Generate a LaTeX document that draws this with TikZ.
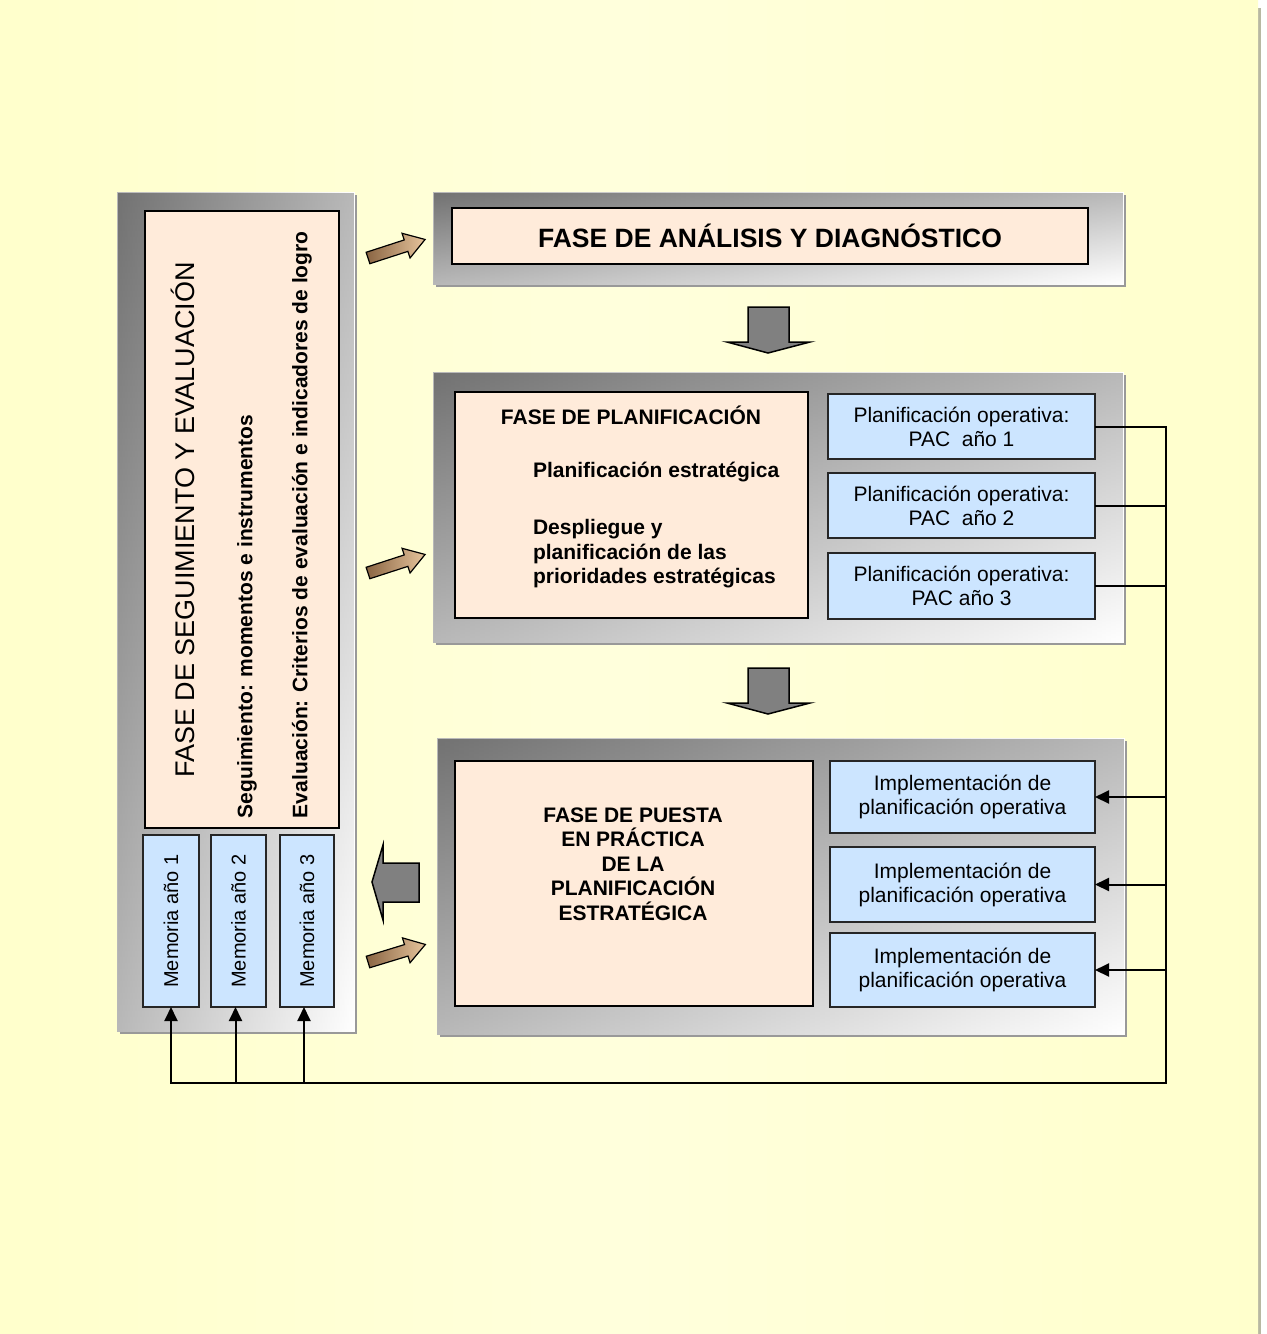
\documentclass[tikz,border=0pt]{standalone}
\usepackage{fontspec}
\setmainfont{Liberation Sans}
\usetikzlibrary{arrows.meta,shadows}
\definecolor{bgA}{HTML}{FFFFCC}
\definecolor{bgB}{HTML}{FFFFDC}
\definecolor{peach}{HTML}{FFEBDA}
\definecolor{lblue}{HTML}{CCE5FF}
\definecolor{pdark}{HTML}{727272}
\definecolor{tanL}{HTML}{E6C49C}
\definecolor{tanD}{HTML}{8A6543}
\definecolor{garrow}{HTML}{808080}
\newcommand\fsz[2]{\fontsize{#1}{#2}\selectfont}
\begin{document}
\begin{tikzpicture}[x=1pt,y=-1pt,
  panel/.style={rectangle, inner sep=0pt, outer sep=0pt, draw=white, line width=0.8pt,
    top color=pdark, bottom color=white,
    drop shadow={shadow xshift=3pt, shadow yshift=-3pt, fill=black!40, opacity=1},
    postaction={left color=pdark, right color=white, fill opacity=0.5, draw=none}},
  pbox/.style={rectangle, draw=black, line width=1.8pt, fill=peach, inner sep=0pt, outer sep=0pt},
  bbox/.style={rectangle, draw=black!85, line width=1.5pt, fill=lblue, inner sep=0pt, outer sep=0pt,
    align=center, font=\fsz{21}{24}},
  txt/.style={inner sep=0pt, outer sep=0pt},
  conn/.style={draw=black, line width=2pt},
  tip/.style={-{Triangle[length=14pt,width=13pt]}},
  garr/.style={fill=garrow, draw=black, line width=1.5pt, line join=miter},
  tanarrow/.pic={\shade[draw=black, line width=1.2pt, left color=tanD, right color=tanL, line join=miter]
      (0,-6) -- (40,-6) -- (40,-13) -- (60,0) -- (40,13) -- (40,6) -- (0,6) -- cycle;}
]
% background
\useasboundingbox (0,0) rectangle (1267,1334);
\fill[white] (0,0) rectangle (1267,1334);
\fill[black!40!bgA!70!white] (1258,8) rectangle (1261,1334);
\shade[left color=bgA, right color=bgA, middle color=bgB] (0,0) rectangle (1258,1334);

% panels
\node[panel, minimum width=237pt, minimum height=839pt] (panL) at (235.5,611.5) {};
\node[panel, minimum width=690pt, minimum height=92pt] (pan1) at (778,238) {};
\node[panel, minimum width=690pt, minimum height=270pt] (pan2) at (778,507) {};
\node[panel, minimum width=687pt, minimum height=296pt] (pan3) at (780.5,886) {};

% top phase
\node[pbox, minimum width=636pt, minimum height=56pt, font=\bfseries\fsz{26.5}{30}] (t1) at (770,236) {FASE DE ANÁLISIS Y DIAGNÓSTICO};

% planning
\node[pbox, minimum width=353pt, minimum height=226pt] (plan) at (631.5,505) {};
\node[txt, font=\bfseries\fsz{21}{24.5}] (planT) at (631,415) {FASE DE PLANIFICACIÓN};
\node[txt, anchor=west, font=\bfseries\fsz{21}{24.5}] (planA) at (533,472) {Planificación estratégica};
\node[txt, anchor=west, align=left, font=\bfseries\fsz{21}{24.5}] (planB) at (533,554) {Despliegue y\\planificación de las\\prioridades estratégicas};
\node[bbox, minimum width=267pt, minimum height=65pt] (p1) at (961.5,426.5) {Planificación operativa:\\PAC\ \ año 1};
\node[bbox, minimum width=267pt, minimum height=65pt] (p2) at (961.5,505.5) {Planificación operativa:\\PAC\ \ año 2};
\node[bbox, minimum width=267pt, minimum height=66pt] (p3) at (961.5,586) {Planificación operativa:\\PAC año 3};

% implementation
\node[pbox, minimum width=358pt, minimum height=245pt] (puesta) at (634,883.5) {};
\node[txt, align=center, font=\bfseries\fsz{21}{24.5}] (puestaT) at (633,864) {FASE DE PUESTA\\EN PRÁCTICA\\DE LA\\PLANIFICACIÓN\\ESTRATÉGICA};
\node[bbox, minimum width=265pt, minimum height=72pt] (i1) at (962.5,797) {Implementación de\\planificación operativa};
\node[bbox, minimum width=265pt, minimum height=75pt] (i2) at (962.5,884.5) {Implementación de\\planificación operativa};
\node[bbox, minimum width=265pt, minimum height=74pt] (i3) at (962.5,970) {Implementación de\\planificación operativa};

% left column
\node[pbox, minimum width=194pt, minimum height=617pt] (segbox) at (242,519.5) {};
\node[txt, rotate=90, font=\fsz{27}{30}] (segT) at (183,520) {FASE DE SEGUIMIENTO Y EVALUACIÓN};
\node[txt, rotate=90, anchor=west, font=\bfseries\fsz{21}{24}] (segA) at (247,818) {Seguimiento: momentos e instrumentos};
\node[txt, rotate=90, anchor=west, font=\bfseries\fsz{21}{24}] (segB) at (302,818) {Evaluación: Criterios de evaluación e indicadores de logro};
\node[bbox, minimum width=56pt, minimum height=172pt] (m1) at (171,921) {};
\node[bbox, minimum width=55pt, minimum height=172pt] (m2) at (238.5,921) {};
\node[bbox, minimum width=54pt, minimum height=172pt] (m3) at (307,921) {};
\node[txt, rotate=90, font=\fsz{20}{24}] (m1t) at (m1) {Memoria año 1};
\node[txt, rotate=90, font=\fsz{20}{24}] (m2t) at (m2) {Memoria año 2};
\node[txt, rotate=90, font=\fsz{20}{24}] (m3t) at (m3) {Memoria año 3};

% big gray arrows
\draw[garr] (748,307) -- (789,307) -- (789,342) -- (810,342) -- (768,353) -- (727,342) -- (748,342) -- cycle;
\draw[garr] (748,668) -- (789,668) -- (789,703) -- (810,703) -- (768,714) -- (727,703) -- (748,703) -- cycle;
\draw[garr] (419,863) -- (419,902) -- (383,902) -- (383,920) -- (372,882) -- (383,845) -- (383,863) -- cycle;

% tan arrows
\pic[rotate=18] at (368,258) {tanarrow};
\pic[rotate=18] at (368,573) {tanarrow};
\pic[rotate=17] at (368,962) {tanarrow};

% connectors
\coordinate (br) at (1166,1083);
\draw[conn, tip] (p1.east) -| (br) -| (m1.south);
\draw[conn] (p2.east) -- (p2.east -| br);
\draw[conn] (p3.east) -- (p3.east -| br);
\draw[conn, tip] (i1.east -| br) -- (i1.east);
\draw[conn, tip] (i2.east -| br) -- (i2.east);
\draw[conn, tip] (i3.east -| br) -- (i3.east);
\draw[conn, tip] ([xshift=-3pt]m2.south |- br) -- ([xshift=-3pt]m2.south);
\draw[conn, tip] ([xshift=-3pt]m3.south |- br) -- ([xshift=-3pt]m3.south);
\end{tikzpicture}
\end{document}
